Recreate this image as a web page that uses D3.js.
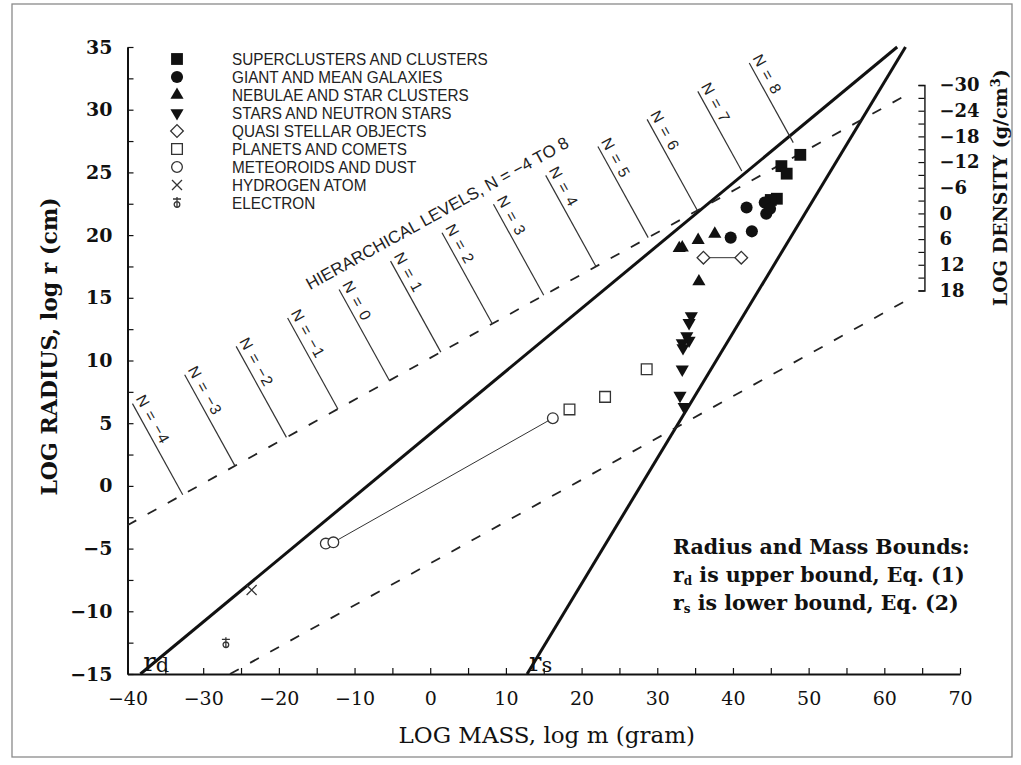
<!DOCTYPE html>
<html><head><meta charset="utf-8">
<script src="https://cdn.jsdelivr.net/npm/d3@7"></script>
<style>
body{margin:0;background:#fff;}
svg{display:block;}
</style></head>
<body>
<svg id="chart" width="1021" height="765"></svg>
<script>
// ---------------- data ----------------
const massTicks = d3.range(-40, 71, 10);
const radiusTicks = d3.range(-15, 36, 5);
const densityTicks = [-30, -24, -18, -12, -6, 0, 6, 12, 18];

const legendLabels = ["SUPERCLUSTERS AND CLUSTERS", "GIANT AND MEAN GALAXIES", "NEBULAE AND STAR CLUSTERS",
  "STARS AND NEUTRON STARS", "QUASI STELLAR OBJECTS", "PLANETS AND COMETS", "METEOROIDS AND DUST",
  "HYDROGEN ATOM", "ELECTRON"];
const legendKeys = ["square", "circle", "triUp", "triDown", "diamond", "openSquare", "openCircle", "cross", "electron"];

// [log m, log r]
const superclusters = [[48.9, 26.4], [46.4, 25.5], [47.1, 24.9], [45.8, 22.9], [45.0, 22.8]];
const galaxies = [[44.2, 22.6], [44.4, 21.7], [44.9, 22.1], [41.8, 22.2], [42.5, 20.3], [39.7, 19.8]];
const nebulae = [[37.6, 20.1], [35.4, 19.6], [32.9, 18.95], [33.3, 19.0], [35.5, 16.3]];
const stars = [[34.5, 13.55], [34.2, 13.0], [33.9, 11.95], [34.2, 11.6], [33.3, 11.4], [33.4, 11.0], [33.3, 9.3], [33.0, 7.2], [33.55, 6.3]];
const quasars = [[36.1, 18.2], [41.1, 18.2]];
const planets = [[28.6, 9.3], [23.1, 7.1], [18.4, 6.1]];
const meteoroids = [[-13.8, -4.6], [-12.8, -4.5], [16.2, 5.4]];
const hydrogen = [[-23.6, -8.3]];
const electron = [[-27.0, -12.55]];

// bounds: log r = slope * log m + intercept
const rdLine = {slope: 0.5, intercept: 4.15};
const rsLine = {slope: 1, intercept: -27.8};
// constant-density lines (slope 1/3), for density -30 and 18
const densSlope = 1 / 3;
const densIntercepts = [10.2, -6.18];
const densLineEndMass = 62.7;
const densAxisMass = 65.3;

// hierarchical levels
const levelN = [-4, -3, -2, -1, 0, 1, 2, 3, 4, 5, 6, 7, 8];
const levelMass = [-32.7, -25.8, -19.0, -12.2, -5.4, 1.4, 8.2, 15.0, 21.9, 28.8, 35.3, 42.0, 48.8];
const hierLabelAt = [-15.9, 15.6];

// ---------------- drawing ----------------
const svg = d3.select("#chart");
const SERIF = "'DejaVu Serif', serif";
const SANS = "'Liberation Sans', Arial, sans-serif";
const INK = "#111";

svg.append("rect").attr("x", 12).attr("y", 4).attr("width", 1000).attr("height", 753)
  .attr("fill", "none").attr("stroke", "#8a8a8a").attr("stroke-width", 1.3);

const x = d3.scaleLinear().domain([-40, 70]).range([127.5, 960]);
const y = d3.scaleLinear().domain([-15, 35]).range([674, 47]);
const lineGen = d3.line().x(d => x(d[0])).y(d => y(d[1]));

// axes
const fmt = d3.format("d");
const gy = svg.append("g").attr("transform", `translate(${x(-40)},0)`)
  .call(d3.axisLeft(y).tickValues(d3.range(-15, 35.01, 2.5)).tickSizeInner(-6).tickSizeOuter(0).tickPadding(15)
    .tickFormat(d => radiusTicks.includes(d) ? fmt(d) : ""));
gy.selectAll("text").attr("font-family", SERIF).attr("font-size", 19).attr("font-weight", "bold").attr("fill", INK);

const gx = svg.append("g").attr("transform", `translate(0,${y(-15)})`)
  .call(d3.axisBottom(x).tickValues(d3.range(-40, 70.01, 5)).tickSizeInner(-6).tickSizeOuter(0).tickPadding(18)
    .tickFormat(d => massTicks.includes(d) ? fmt(d) : ""));
gx.selectAll("text").attr("font-family", SERIF).attr("font-size", 19).attr("fill", INK);

[gx, gy].forEach(g => {
  g.select(".domain").attr("stroke", INK).attr("stroke-width", 2);
  g.selectAll(".tick line").attr("stroke", INK).attr("stroke-width", 1.2);
});

// density axis
const dens = d3.scaleLinear().domain([-30, 18])
  .range([y(densSlope * densAxisMass + densIntercepts[0]), y(densSlope * densAxisMass + densIntercepts[1])]);
const gd = svg.append("g").attr("transform", `translate(${x(densAxisMass)},0)`)
  .call(d3.axisRight(dens).tickValues(d3.range(-30, 18.01, 3)).tickSizeInner(-6).tickSizeOuter(-6).tickPadding(15)
    .tickFormat(d => densityTicks.includes(d) ? fmt(d) : ""));
gd.select(".domain").attr("stroke", INK).attr("stroke-width", 1.4);
gd.selectAll(".tick line").attr("stroke", INK).attr("stroke-width", 1.2);
gd.selectAll("text").attr("font-family", SERIF).attr("font-size", 18).attr("font-weight", "bold").attr("fill", INK);

// axis titles
svg.append("text").attr("transform", `translate(57,${(y(35) + y(-15)) / 2 - 14}) rotate(-90)`)
  .attr("text-anchor", "middle").attr("font-family", SERIF).attr("font-size", 22).attr("font-weight", "bold")
  .attr("fill", INK).text("LOG RADIUS, log r (cm)");
svg.append("text").attr("x", (x(-40) + x(70)) / 2 + 3).attr("y", 743)
  .attr("text-anchor", "middle").attr("font-family", SERIF).attr("font-size", 23)
  .attr("fill", INK).text("LOG MASS, log m (gram)");
const dt = svg.append("text").attr("transform", `translate(1007,${(dens(-30) + dens(18)) / 2}) rotate(-90)`)
  .attr("text-anchor", "middle").attr("font-family", SERIF).attr("font-size", 19).attr("font-weight", "bold")
  .attr("fill", INK);
dt.append("tspan").text("LOG DENSITY (g/cm");
dt.append("tspan").attr("font-size", 13).attr("dy", -7).text("3");
dt.append("tspan").attr("dy", 7).text(")");

// bound lines
const rdPts = [-15, 35].map(r => [(r - rdLine.intercept) / rdLine.slope, r]);
const rsPts = [-15, 35].map(r => [(r - rsLine.intercept) / rsLine.slope, r]);
[rdPts, rsPts].forEach(p => svg.append("path").attr("d", lineGen(p)).attr("fill", "none")
  .attr("stroke", INK).attr("stroke-width", 3));

// density dashed lines
densIntercepts.forEach(c => {
  const m0 = Math.max(-40, (-15 - c) / densSlope);
  svg.append("path").attr("d", lineGen([[m0, densSlope * m0 + c], [densLineEndMass, densSlope * densLineEndMass + c]]))
    .attr("fill", "none").attr("stroke", "#222").attr("stroke-width", 1.8).attr("stroke-dasharray", "10,13");
});

// hierarchical level lines
const ux = x(1) - x(0), uy = y(densSlope) - y(0);
const ulen = Math.hypot(ux, uy);
const dir = [ux / ulen, uy / ulen];      // along dashed line (right-up)
const perp = [dir[1], -dir[0]];           // up-left
const angleDown = Math.atan2(-perp[1], -perp[0]) * 180 / Math.PI;
const angleAlong = Math.atan2(dir[1], dir[0]) * 180 / Math.PI;
const L = 104;
levelN.forEach((n, i) => {
  const m = levelMass[i];
  const bx = x(m), by = y(densSlope * m + densIntercepts[0]);
  const trim = n >= 7 ? 13 : 0;
  const tx = bx + L * perp[0], ty = by + L * perp[1];
  svg.append("line").attr("x1", bx + trim * perp[0]).attr("y1", by + trim * perp[1]).attr("x2", tx).attr("y2", ty)
    .attr("stroke", "#333").attr("stroke-width", 1.2);
  const lx = tx + 3 * perp[0] + 5 * dir[0], ly = ty + 3 * perp[1] + 5 * dir[1];
  svg.append("text").attr("transform", `translate(${lx},${ly}) rotate(${angleDown})`)
    .attr("font-family", SANS).attr("font-size", 15.5).attr("letter-spacing", 1.2).attr("fill", "#222")
    .attr("xml:space", "preserve")
    .text("N = " + (n < 0 ? "\u2212" + Math.abs(n) : n));
});
svg.append("text").attr("transform", `translate(${x(hierLabelAt[0])},${y(hierLabelAt[1])}) rotate(${angleAlong})`)
  .attr("font-family", SANS).attr("font-size", 17).attr("fill", "#222")
  .text("HIERARCHICAL LEVELS, N = \u22124 TO 8");

// connecting thin lines
svg.append("path").attr("d", lineGen([quasars[0], quasars[1]])).attr("stroke", "#333").attr("stroke-width", 1).attr("fill", "none");
svg.append("path").attr("d", lineGen([meteoroids[1], meteoroids[2]])).attr("stroke", "#333").attr("stroke-width", 1).attr("fill", "none");

// markers
function markerPath(key) {
  switch (key) {
    case "square": return d3.symbol(d3.symbolSquare, 140)();
    case "circle": return d3.symbol(d3.symbolCircle, 115)();
    case "triUp": return d3.symbol(d3.symbolTriangle, 75)();
    case "triDown": return d3.symbol(d3.symbolTriangle, 75)();
    case "diamond": return d3.symbol(d3.symbolSquare, 80)();
    case "openSquare": return d3.symbol(d3.symbolSquare, 115)();
    case "openCircle": return d3.symbol(d3.symbolCircle, 90)();
    case "cross": return "M-5,-5L5,5M-5,5L5,-5";
    case "electron": return "M-4,-4H4M0,-6V5M2.8,1.5A2.8,2.8 0 1 1 -2.8,1.5A2.8,2.8 0 1 1 2.8,1.5";
  }
}
const filled = new Set(["square", "circle", "triUp", "triDown"]);
function drawMarker(g, key, px, py) {
  const rot = key === "triDown" ? 180 : key === "diamond" ? 45 : 0;
  const p = g.append("path").attr("d", markerPath(key))
    .attr("transform", `translate(${px},${py}) rotate(${rot})`);
  if (filled.has(key)) p.attr("fill", INK).attr("stroke", "none");
  else p.attr("fill", key === "cross" || key === "electron" ? "none" : "#fff").attr("stroke", "#333").attr("stroke-width", 1.3);
}
const marks = svg.append("g");
const series = [[superclusters, "square"], [galaxies, "circle"], [nebulae, "triUp"], [stars, "triDown"],
  [quasars, "diamond"], [planets, "openSquare"], [meteoroids, "openCircle"], [hydrogen, "cross"], [electron, "electron"]];
series.forEach(([data, key]) => data.forEach(d => drawMarker(marks, key, x(d[0]), y(d[1]))));

// legend
const leg = svg.append("g");
legendKeys.forEach((key, i) => {
  const ly = 59 + i * 18;
  drawMarker(leg, key, 177, ly);
  leg.append("text").attr("transform", `translate(232,${ly + 6}) scale(0.9,1)`)
    .attr("font-family", SANS).attr("font-size", 17).attr("fill", "#222").text(legendLabels[i]);
});

// rd, rs labels
function rLabel(px, py, sub) {
  const t = svg.append("text").attr("x", px).attr("y", py).attr("font-family", SERIF).attr("font-size", 26).attr("fill", INK);
  t.append("tspan").text("r");
  t.append("tspan").attr("font-size", 21).attr("dy", 1).text(sub);
}
rLabel(x((-15 - rdLine.intercept) / rdLine.slope) + 3, 671, "d");
rLabel(x((-15 - rsLine.intercept) / rsLine.slope) + 2, 671, "s");

// bounds note
const note = svg.append("g").attr("font-family", SERIF).attr("font-weight", "bold").attr("fill", INK).attr("font-size", 20.5);
note.append("text").attr("x", 673).attr("y", 554).text("Radius and Mass Bounds:");
const n2 = note.append("text").attr("x", 673).attr("y", 582);
n2.append("tspan").text("r");
n2.append("tspan").attr("font-size", 12).attr("dy", 3).text("d");
n2.append("tspan").attr("dy", -3).text(" is upper bound, Eq. (1)");
const n3 = note.append("text").attr("x", 673).attr("y", 610);
n3.append("tspan").text("r");
n3.append("tspan").attr("font-size", 12).attr("dy", 3).text("s");
n3.append("tspan").attr("dy", -3).text(" is lower bound, Eq. (2)");
</script>
</body></html>
